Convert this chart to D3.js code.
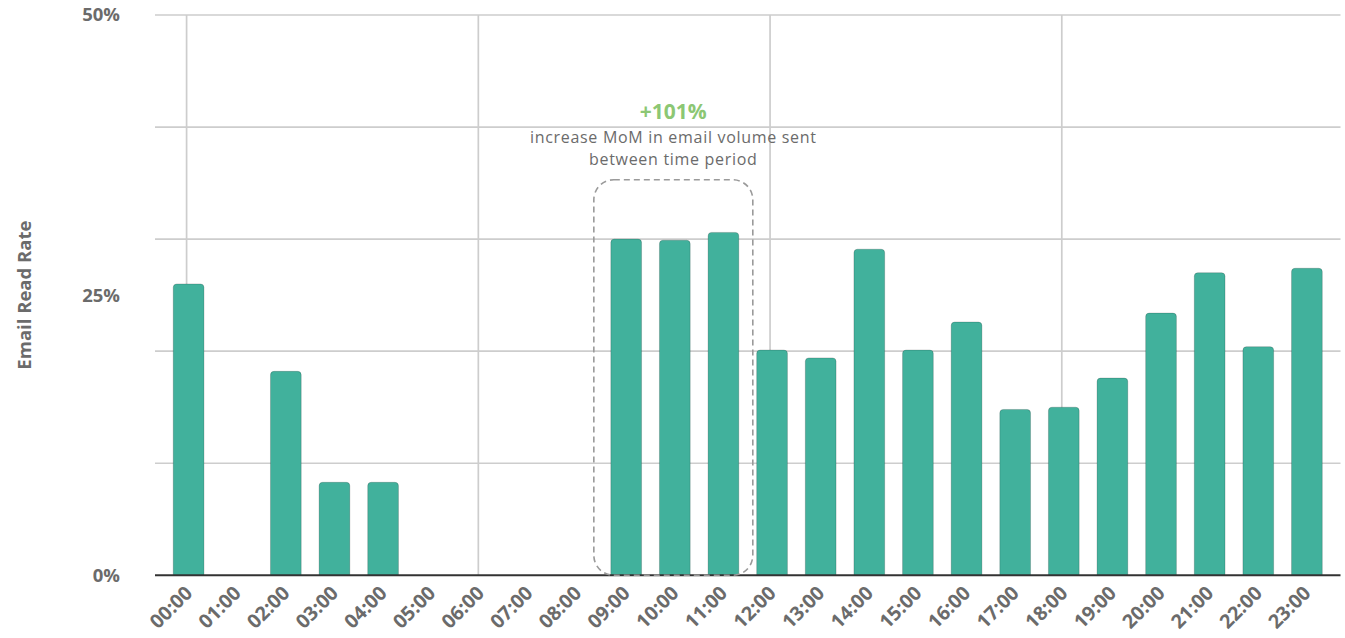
<!DOCTYPE html>
<html>
<head>
<meta charset="utf-8">
<script src="https://cdn.jsdelivr.net/npm/d3@7"></script>
<style>
  html, body { margin: 0; padding: 0; background: #fff; }
  svg { display: block; font-family: "Open Sans", "Noto Sans", sans-serif; }
</style>
</head>
<body>
<svg id="chart" width="1345" height="638"></svg>
<script>
// Hourly email read rate (%)
const hours = ["00:00","01:00","02:00","03:00","04:00","05:00","06:00","07:00","08:00","09:00","10:00","11:00",
               "12:00","13:00","14:00","15:00","16:00","17:00","18:00","19:00","20:00","21:00","22:00","23:00"];
const readRate = [26.0, 0, 18.2, 8.3, 8.3, 0, 0, 0, 0, 30.0, 29.9, 30.6,
                  20.1, 19.4, 29.1, 20.1, 22.6, 14.8, 15.0, 17.6, 23.4, 27.0, 20.4, 27.4];
const gridValues = [10, 20, 30, 40, 50];
const tickValues = [0, 25, 50];
const tickLabels = ["0%", "25%", "50%"];
const verticalGridHours = ["00:00", "06:00", "12:00", "18:00"];
const highlightHours = ["09:00", "11:00"];
const highlightTop = 35.3;
const calloutValue = "+101%";
const calloutLines = ["increase MoM in email volume sent", "between time period"];
const yTitle = "Email Read Rate";

const svg = d3.select("#chart");
const plotLeft = 155, plotRight = 1340.5, plotTop = 15, plotBottom = 575.3;

const x = d3.scaleBand().domain(hours).range([plotLeft, plotRight]).paddingInner(0.368).paddingOuter(0.375);
const y = d3.scaleLinear().domain([0, 50]).range([plotBottom, plotTop]);
const bw = x.bandwidth();

// horizontal grid
const grid = svg.append("g");
grid.selectAll("line.h").data(gridValues).join("line")
  .attr("class", "h")
  .attr("x1", plotLeft).attr("x2", plotRight)
  .attr("y1", d => y(d)).attr("y2", d => y(d))
  .attr("stroke", "#cdcdcd").attr("stroke-width", 1.7);
// vertical grid
grid.selectAll("line.v").data(verticalGridHours).join("line")
  .attr("class", "v")
  .attr("x1", d => x(d) + bw / 2 - 2).attr("x2", d => x(d) + bw / 2 - 2)
  .attr("y1", y(50)).attr("y2", y(0))
  .attr("stroke", "#cdcdcd").attr("stroke-width", 1.7);

// bars with rounded tops
function barPath(x0, w, yTop, yBase, r) {
  const h = yBase - yTop;
  if (h <= 0) return "";
  r = Math.min(r, h, w / 2);
  return `M${x0},${yBase}V${yTop + r}Q${x0},${yTop} ${x0 + r},${yTop}H${x0 + w - r}Q${x0 + w},${yTop} ${x0 + w},${yTop + r}V${yBase}Z`;
}
svg.append("g").selectAll("path").data(hours.map((h, i) => ({ h, v: readRate[i] })).filter(d => d.v > 0))
  .join("path")
  .attr("d", d => barPath(x(d.h), bw, y(d.v), y(0), 3.5))
  .attr("fill", "#41b19c")
  .attr("stroke", "rgba(0,0,0,0.2)").attr("stroke-width", 0.9);

// baseline axis
svg.append("line")
  .attr("x1", plotLeft).attr("x2", plotRight)
  .attr("y1", y(0)).attr("y2", y(0))
  .attr("stroke", "#333").attr("stroke-width", 2);

// y tick labels
svg.append("g").selectAll("text").data(tickValues).join("text")
  .attr("x", 120).attr("y", d => y(d)).attr("dy", "0.35em")
  .attr("text-anchor", "end")
  .attr("font-size", 18.5).attr("font-weight", 700).attr("fill", "#6b6b6b")
  .text((d, i) => tickLabels[i]);

// y axis title
svg.append("text")
  .attr("transform", `translate(31,${(y(0) + y(50)) / 2}) rotate(-90)`)
  .attr("text-anchor", "middle")
  .attr("font-size", 18.5).attr("font-weight", 700).attr("fill", "#6b6b6b")
  .text(yTitle);

// x tick labels
svg.append("g").selectAll("text").data(hours).join("text")
  .attr("transform", d => `translate(${x(d) + bw / 2 + 5},${y(0) + 19}) rotate(-45)`)
  .attr("text-anchor", "end")
  .attr("font-size", 19.5).attr("font-weight", 700).attr("fill", "#6b6b6b")
  .text(d => d);

// highlight box around the morning peak
const bx0 = x(highlightHours[0]) - 17;
const bx1 = x(highlightHours[1]) + bw + 14;
svg.append("rect")
  .attr("x", bx0).attr("y", y(highlightTop))
  .attr("width", bx1 - bx0).attr("height", y(0) - y(highlightTop))
  .attr("rx", 20).attr("ry", 20)
  .attr("fill", "none").attr("stroke", "#9a9a9a").attr("stroke-width", 1.6)
  .attr("stroke-dasharray", "6,4");

// callout text
const cx = (bx0 + bx1) / 2;
svg.append("text")
  .attr("x", cx).attr("y", y(highlightTop) - 61)
  .attr("text-anchor", "middle")
  .attr("font-size", 21).attr("font-weight", 700).attr("fill", "#8cc774")
  .text(calloutValue);
svg.append("g").selectAll("text").data(calloutLines).join("text")
  .attr("x", cx).attr("y", (d, i) => y(highlightTop) - 37.2 + i * 22)
  .attr("text-anchor", "middle")
  .attr("font-size", 16).attr("letter-spacing", 0.7).attr("fill", "#6b6b6b")
  .text(d => d);
</script>
</body>
</html>
